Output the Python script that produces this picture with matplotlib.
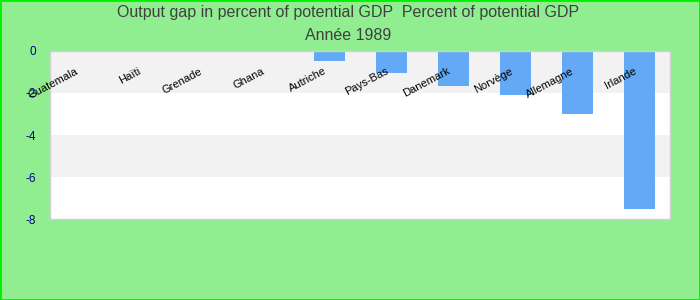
import matplotlib
matplotlib.use("Agg")
import matplotlib.pyplot as plt

countries = ["Guatemala", "Haïti", "Grenade", "Ghana", "Autriche", "Pays-Bas",
             "Danemark", "Norvège", "Allemagne", "Irlande"]
values = [0, 0, 0, 0, -0.5, -1.03, -1.65, -2.08, -3.0, -7.5]
yticks = [0, -2, -4, -6, -8]

plt.rcParams['font.family'] = ['Liberation Sans', 'DejaVu Sans']

fig = plt.figure(figsize=(7, 3), dpi=100, facecolor='#90EE90')
fig.patches.append(plt.Rectangle((0, 0), 1, 1, transform=fig.transFigure,
                                 fill=False, edgecolor='#00EE00', linewidth=2))
ax = fig.add_axes([50/700, 1-219/300, 620/700, 168/300])
ax.set_facecolor('white')

# alternating bands
for k in range(0, len(yticks) - 1, 2):
    ax.axhspan(yticks[k + 1], yticks[k], color='#F2F2F2', zorder=0, lw=0)

x = list(range(len(countries)))
ax.bar(x, values, width=0.5, color='#63A9F5', zorder=2)

ax.set_xlim(-0.5, len(countries) - 0.5)
ax.set_ylim(-8, 0)
ax.set_yticks(yticks)
ax.set_yticklabels([str(t) for t in yticks], color='#00008B', fontsize=8.5)
ax.tick_params(axis='y', length=0, pad=10)
ax.set_xticks([])
for s in ax.spines.values():
    s.set_color('#D0D0D0')
    s.set_linewidth(1)

for i, name in enumerate(countries):
    ax.text(i - 0.09, -0.72, name, rotation=28, rotation_mode='anchor',
            ha='right', va='top', fontsize=8, color='black', zorder=3)

fig.text(0.497, 1 - 13/300, "Output gap in percent of potential GDP  Percent of potential GDP",
         ha='center', va='center', fontsize=11.5, color='#404040')
fig.text(0.497, 1 - 35/300, "Année 1989", ha='center', va='center',
         fontsize=11.5, color='#404040')

fig.savefig("out.png", dpi=100, facecolor=fig.get_facecolor())
